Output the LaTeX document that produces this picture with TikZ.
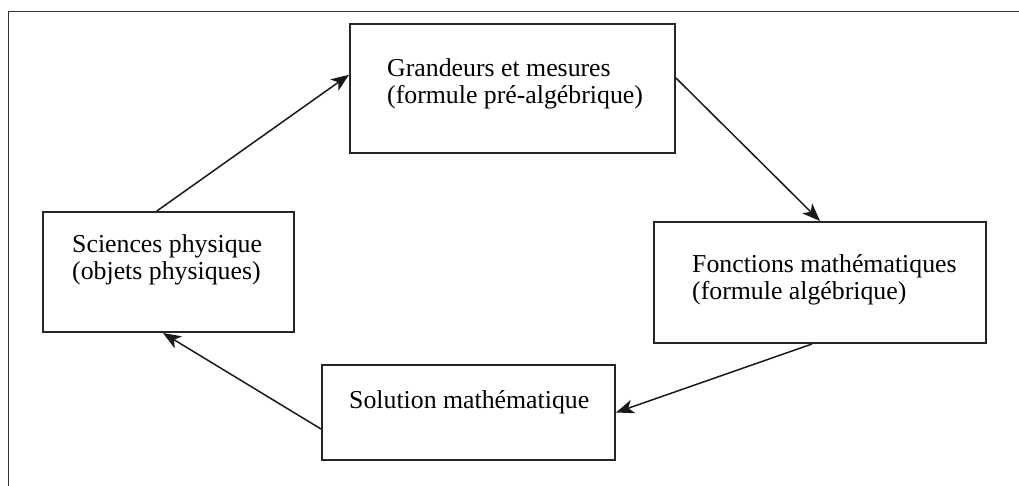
\documentclass[tikz,border=0pt]{standalone}
\usepackage{fontspec}
\setmainfont{Liberation Serif}
\usetikzlibrary{positioning,calc,arrows.meta}

\begin{document}
\begin{tikzpicture}[x=1pt, y=-1pt, >={Stealth[length=18pt,width=14pt,inset=5pt]}]
    \tikzset{box/.style={draw=black!85, line width=2pt, rectangle, inner sep=0pt},
             txt/.style={align=left, inner sep=0pt, font=\fontsize{25.8}{27}\selectfont},
             link/.style={->, line width=1.5pt, draw=black!90}}
    \useasboundingbox (0,0) rectangle (1019,485);
    \draw[black!80, line width=1pt] (8,495) |- (1030,11);
    \node[box, minimum width=325pt, minimum height=129pt] (grandeurs) at (512.5,88.5) {};
    \node[box, minimum width=251pt, minimum height=120pt] (sciences)  at (168.5,272)  {};
    \node[box, minimum width=332pt, minimum height=121pt] (fonctions) at (820,282.5)  {};
    \node[box, minimum width=293pt, minimum height=95pt]  (solution)  at (468.5,412.5) {};
    \node[txt, below right=35pt and 38pt of grandeurs.north west] (grandeurs text) {Grandeurs et mesures\\(formule pré-algébrique)};
    \node[txt, below right=23pt and 30pt of sciences.north west]  (sciences text)  {Sciences physique\\(objets physiques)};
    \node[txt, below right=33pt and 39pt of fonctions.north west] (fonctions text) {Fonctions mathématiques\\(formule algébrique)};
    \node[txt, below right=26pt and 28pt of solution.north west]  (solution text)  {Solution mathématique};
    \draw[link] ($(sciences.north west)!0.454!(sciences.north east)$) -- ($(grandeurs.north west)!0.395!(grandeurs.south west)$);
    \draw[link] ($(grandeurs.north east)!0.42!(grandeurs.south east)$) -- (fonctions.north);
    \draw[link] ($(fonctions.south west)!0.476!(fonctions.south east)$) -- (solution.east);
    \draw[link] ($(solution.north west)!0.67!(solution.south west)$) -- ($(sciences.south west)!0.478!(sciences.south east)$);
\end{tikzpicture}
\end{document}
